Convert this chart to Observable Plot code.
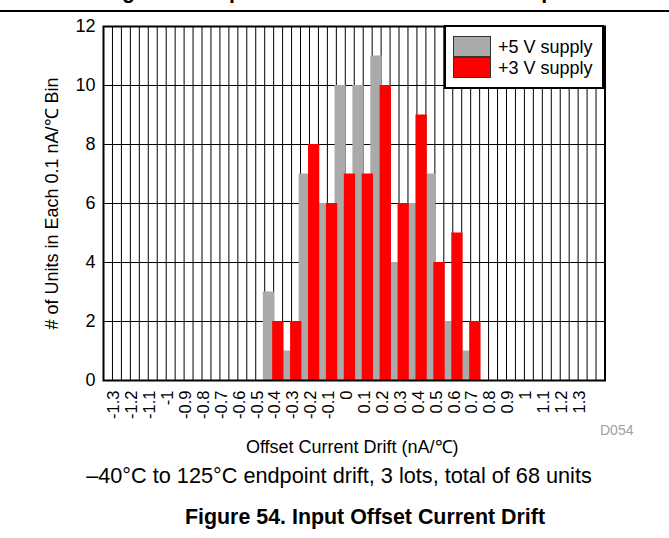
<!DOCTYPE html>
<html><head><meta charset="utf-8">
<script src="https://cdn.jsdelivr.net/npm/d3@7"></script>
<script src="https://cdn.jsdelivr.net/npm/@observablehq/plot@0.6"></script>
<style>
html,body{margin:0;padding:0;background:#fff;}
#root{position:relative;width:669px;height:538px;overflow:hidden;font-family:"Liberation Sans",Arial,sans-serif;color:#000;}
.abs{position:absolute;white-space:nowrap;}
#chart{position:absolute;left:0;top:0;}
</style></head><body><div id="root"><div id="chart"></div></div>
<script>
// ---- data ----
const categories = ["-1.3","-1.2","-1.1","-1","-0.9","-0.8","-0.7","-0.6","-0.5","-0.4","-0.3","-0.2","-0.1","0","0.1","0.2","0.3","0.4","0.5","0.6","0.7","0.8","0.9","1","1.1","1.2","1.3"];
const supply5V = [0,0,0,0,0,0,0,0,0, 3,1,7,6,10,10,11,4,6,7,2,1, 0,0,0,0,0,0];
const supply3V = [0,0,0,0,0,0,0,0,0, 2,2,8,6,7,7,10,6,9,4,5,2, 0,0,0,0,0,0];
const yTicks = [0,2,4,6,8,10,12];
const seriesNames = ["+5 V supply","+3 V supply"];
const seriesColors = ["#aaaaaa","#ff0000"];
const xLabel = "Offset Current Drift (nA/℃)";
const yLabel = "# of Units in Each 0.1 nA/℃ Bin";
const note = "–40°C to 125°C endpoint drift, 3 lots, total of 68 units";
const figTitle = "Figure 54. Input Offset Current Drift";
const prevTitle = "Figure 53. Input Offset Current Drift vs Temperature";
const code = "D054";

const rows = categories.map((c, i) => ({i, label: c, v5: supply5V[i], v3: supply3V[i]}));
const nSlots = categories.length + 1; // one empty bin at the right

const chart = Plot.plot({
  width: 669, height: 460,
  marginLeft: 103, marginRight: 64.5, marginTop: 26, marginBottom: 80,
  style: {fontFamily: "Liberation Sans, Arial, sans-serif", fontSize: "18px", color: "#000", background: "transparent", overflow: "visible"},
  x: {domain: [0, nSlots], axis: null},
  y: {domain: [0, 12], axis: null},
  marks: [
    Plot.ruleX(d3.range(1, nSlots * 2).map(k => k / 2), {stroke: "#000", strokeWidth: 1}),
    Plot.ruleY(yTicks, {stroke: "#000", strokeWidth: 1}),
    Plot.rect(rows, {x1: d => d.i - 0.075, x2: d => d.i + 0.555, y1: () => 0, y2: "v5", fill: seriesColors[0]}),
    Plot.rect(rows, {x1: d => d.i + 0.445, x2: d => d.i + 1.075, y1: () => 0, y2: "v3", fill: seriesColors[1]}),
    Plot.axisY({ticks: yTicks, tickSize: 0, tickPadding: 8, fontSize: 18, label: null}),
    Plot.axisX({ticks: categories.map((c, i) => i + 0.5), tickFormat: d => categories[Math.floor(d)], tickRotate: -90, tickSize: 0, tickPadding: 10, fontSize: 16.5, dx: 1.5, label: null}),
    Plot.text([yLabel], {frameAnchor: "left", rotate: -90, dx: -51, text: d => d, fontSize: 18, textAnchor: "middle", lineAnchor: "middle"}),
    Plot.text([xLabel], {frameAnchor: "bottom", dy: 67, dx: -2, text: d => d, fontSize: 18, textAnchor: "middle", lineAnchor: "middle"}),
    Plot.text([code], {frameAnchor: "bottom-right", textAnchor: "start", dx: -5, dy: 50, fill: "#a0a0a0", fontSize: 14, lineAnchor: "middle"}),
    Plot.frame({stroke: "#000", strokeWidth: 2})
  ]
});
document.getElementById("chart").appendChild(chart);

const root = document.getElementById("root");
function addDiv(style, text) {
  const el = document.createElement("div");
  el.className = "abs";
  el.setAttribute("style", style);
  if (text != null) el.textContent = text;
  root.appendChild(el);
  return el;
}
// cropped previous caption and rule line at the top
addDiv("left:0;top:-19px;width:730px;text-align:center;font-weight:bold;font-size:21.4px;line-height:21.4px;", prevTitle);
addDiv("left:0;top:10px;width:669px;height:1.5px;background:#000;");
// legend
addDiv("left:444px;top:25px;width:160px;height:64px;box-sizing:border-box;border:2.5px solid #000;background:#fff;");
seriesNames.forEach((name, k) => {
  addDiv(`left:453px;top:${36 + k * 21}px;width:38px;height:21px;box-sizing:border-box;border:1px solid #333;background:${seriesColors[k]};`);
  addDiv(`left:498px;top:${38 + k * 21}px;font-size:18px;line-height:18px;`, name);
});
// note and figure title
addDiv("left:0;top:465px;width:678px;text-align:center;font-size:21.7px;line-height:21.7px;", note);
addDiv("left:0;top:507px;width:730px;text-align:center;font-weight:bold;font-size:21.4px;line-height:21.4px;", figTitle);
</script>
</body></html>
